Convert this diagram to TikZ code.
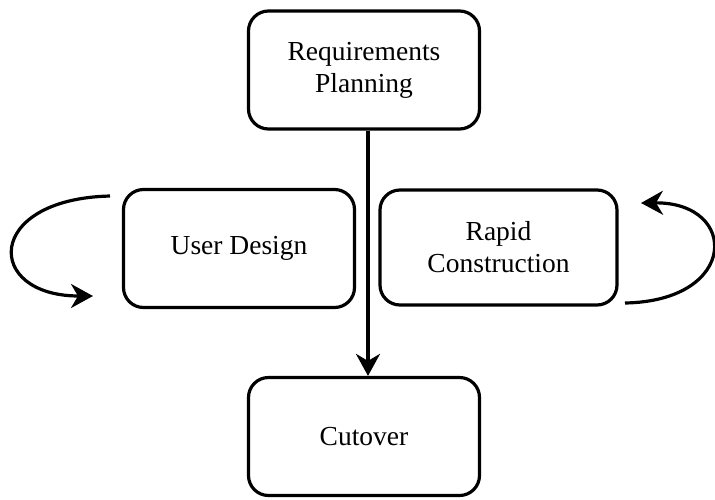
\documentclass[tikz,border=0pt]{standalone}
\usepackage{fontspec}
\setmainfont{Liberation Serif}
\usetikzlibrary{arrows.meta,positioning}

\begin{document}
\begin{tikzpicture}[x=1pt,y=-1pt,>={Stealth[length=22pt,width=24pt,inset=7pt]},
					thick,phase node/.style={draw,line width=3.2pt,rounded corners=20pt,
					minimum width=231pt,minimum height=118pt,align=center,
					font=\fontsize{27.5}{32}\selectfont},
					flow/.style={->,line width=3.2pt}]

					\useasboundingbox (0,0) rectangle (715,499);

					\node[phase node] (req) at (364,70) {Requirements\\Planning};
					\node[phase node] (user) at (239,248.5) {User Design};
					\node[phase node, minimum width=237pt, minimum height=115pt] (rapid) at (498.5,247.5) {Rapid\\Construction};
					\node[phase node] (cut) at (364,436.5) {Cutover};

					% loop ends
					\coordinate (user out) at (110,196);
					\coordinate (user in) at (93,296);
					\coordinate (rapid out) at (625,303);
					\coordinate (rapid in) at (641,203);

					\draw[flow] ([xshift=4pt]req.south) -- ([xshift=4pt]cut.north);
					\draw[flow] (user out) .. controls (-16,199) and (-16,296) .. (user in);
					\draw[flow] (rapid out) .. controls (739,301) and (739,202) .. (rapid in);

				\end{tikzpicture}
\end{document}
